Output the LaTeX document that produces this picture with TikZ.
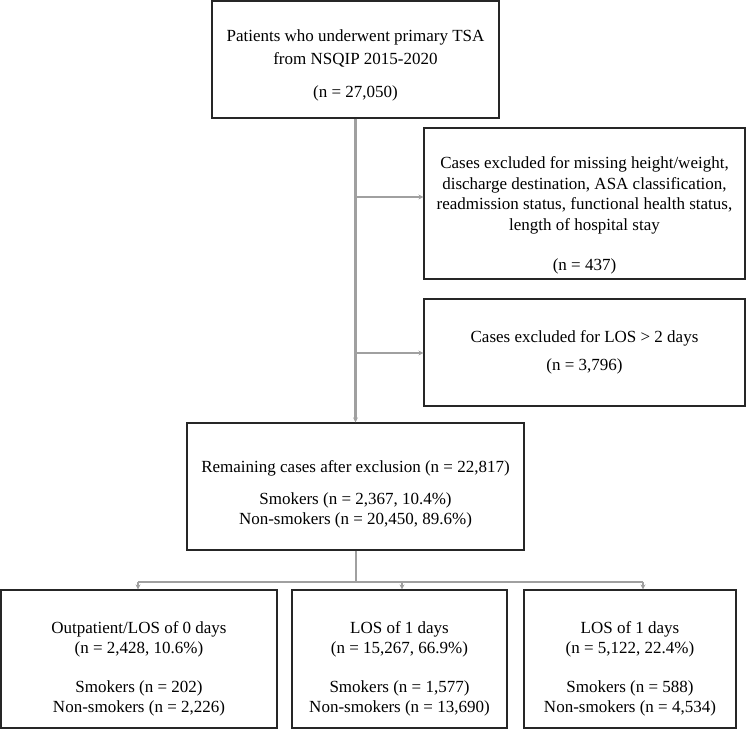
\documentclass[tikz,border=0pt]{standalone}
\usepackage{fontspec}
\setmainfont{Liberation Serif}
\usetikzlibrary{arrows.meta}
\definecolor{linkgray}{RGB}{160,160,160}
\newcommand{\toppad}[1]{\rule{0pt}{#1}}

\begin{document}
\begin{tikzpicture}[x=1pt,y=-1pt,
    every node/.style={font=\fontsize{17}{20.5}\selectfont},
    flowbox/.style={draw=black!85,line width=1.1pt,align=center,inner sep=0pt},
    trunk/.style={draw=linkgray,line width=2.6pt},
    branch/.style={draw=linkgray,line width=2pt},
    tip/.style={-{Stealth[length=5pt,width=5pt]}}]
  \useasboundingbox (0,0) rectangle (748,730);

  \node[flowbox,minimum width=287pt,minimum height=117pt,
        font=\fontsize{17}{23}\selectfont] (start) at (355.5,59.5)
    {\toppad{23pt}Patients who underwent primary TSA\\from NSQIP 2015-2020\\[10pt](n = 27,050)};
  \node[flowbox,minimum width=321pt,minimum height=151pt] (excla) at (584.5,203.5)
    {\toppad{36pt}Cases excluded for missing height/weight,\\discharge destination, ASA classification,\\readmission status, functional health status,\\length of hospital stay\\[20pt](n = 437)};
  \node[flowbox,minimum width=321pt,minimum height=107pt] (exclb) at (584.5,352.5)
    {Cases excluded for LOS > 2 days\\[7pt](n = 3,796)};
  \node[flowbox,minimum width=337pt,minimum height=127pt] (remain) at (355.5,486.5)
    {\toppad{28pt}Remaining cases after exclusion (n = 22,817)\\[11pt]Smokers (n = 2,367, 10.4\%)\\Non-smokers (n = 20,450, 89.6\%)};

  \node[flowbox,minimum width=276pt,minimum height=138pt] (los0) at (139,659)
    {\toppad{32pt}Outpatient/LOS of 0 days\\(n = 2,428, 10.6\%)\\[18pt]Smokers (n = 202)\\Non-smokers (n = 2,226)};
  \node[flowbox,minimum width=215pt,minimum height=138pt] (los1) at (399.5,659)
    {\toppad{32pt}LOS of 1 days\\(n = 15,267, 66.9\%)\\[18pt]Smokers (n = 1,577)\\Non-smokers (n = 13,690)};
  \node[flowbox,minimum width=212pt,minimum height=138pt] (los2) at (630,659)
    {\toppad{32pt}LOS of 1 days\\(n = 5,122, 22.4\%)\\[18pt]Smokers (n = 588)\\Non-smokers (n = 4,534)};

  \coordinate (ja) at (355.5,197);
  \coordinate (jb) at (355.5,353);
  \coordinate (bus) at (355.5,582);
  \coordinate (busl) at (138,582);
  \coordinate (busm) at (402,582);
  \coordinate (busr) at (643,582);

  \draw[trunk,tip] (start.south) -- (remain.north);
  \draw[branch,tip] (ja) -- (ja -| excla.west);
  \draw[branch,tip] (jb) -- (jb -| exclb.west);

  \draw[branch] (remain.south) -- (bus);
  \draw[branch] (busl) -- (busr);
  \draw[branch,tip] (busl) -- (busl |- los0.north);
  \draw[branch,tip] (busm) -- (busm |- los1.north);
  \draw[branch,tip] (busr) -- (busr |- los2.north);
\end{tikzpicture}
\end{document}
